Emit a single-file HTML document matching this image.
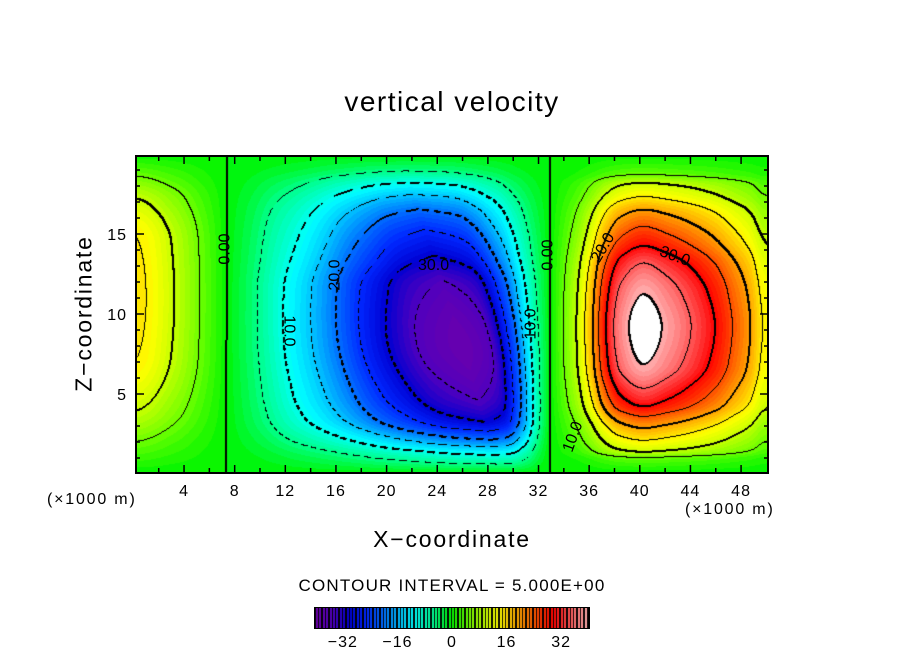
<!DOCTYPE html>
<html><head><meta charset="utf-8">
<style>
html,body{margin:0;padding:0;background:#fff;}
#root{position:relative;width:904px;height:654px;overflow:hidden;font-family:"Liberation Sans",sans-serif;color:#000;}
.t{position:absolute;white-space:nowrap;}
canvas{position:absolute;}
svg{position:absolute;left:0;top:0;}
.lab{position:absolute;font-size:16px;white-space:nowrap;transform-origin:center center;}
</style></head>
<body>
<div id="root">
<div class="t" style="left:0;width:904px;text-align:center;top:86px;font-size:28px;letter-spacing:1.5px;">vertical velocity</div>
<canvas id="plot" width="632" height="317" style="left:136px;top:156px;"></canvas>
<svg id="axes" width="904" height="654"></svg>
<div class="lab" style="left:210px;top:240px;transform:rotate(-90deg);">0.00</div>
<div class="lab" style="left:273px;top:322px;transform:rotate(90deg);">10.0</div>
<div class="lab" style="left:320px;top:266px;transform:rotate(-90deg);">20.0</div>
<div class="lab" style="left:418px;top:257px;">30.0</div>
<div class="lab" style="left:516px;top:315px;transform:rotate(-90deg);">10.0</div>
<div class="lab" style="left:533px;top:246px;transform:rotate(-90deg);">0.00</div>
<div class="lab" style="left:588px;top:239px;transform:rotate(-60deg);">20.0</div>
<div class="lab" style="left:659px;top:248px;transform:rotate(20deg);">30.0</div>
<div class="lab" style="left:558px;top:428px;transform:rotate(-70deg);">10.0</div>
<div class="t" style="left:47px;top:491px;font-size:16px;letter-spacing:1.8px;">(×1000 m)</div>
<div class="t" style="left:685px;top:501px;font-size:16px;letter-spacing:1.8px;">(×1000 m)</div>
<div class="t" style="left:0;width:904px;text-align:center;top:526px;font-size:23px;letter-spacing:1.8px;">X−coordinate</div>
<div class="t" style="left:-16px;top:300px;width:200px;text-align:center;font-size:23px;letter-spacing:1.8px;transform:rotate(-90deg);">Z−coordinate</div>
<div class="t" style="left:0;width:904px;text-align:center;top:576px;font-size:17px;letter-spacing:1.2px;">CONTOUR INTERVAL = 5.000E+00</div>
<canvas id="cbar" width="274" height="20" style="left:315px;top:608px;"></canvas>
</div>
<script>
// ---- data ----
const xTicks=[4,8,12,16,20,24,28,32,36,40,44,48];
const zTicks=[5,10,15];
const cbarTicks=[-32,-16,0,16,32];
const contourLevelStep=5;
// positive updraft cell (right)
const posAmp=42;
const posXProfile=[[32.9,0],[34,0.12],[35,0.24],[35.7,0.36],[36.3,0.48],[36.8,0.6],[37.3,0.71],[38.5,0.9],[40.3,1],[42.2,0.93],[46,0.71],[47.3,0.6],[48.7,0.48],[49.7,0.36],[51,0.3]];
const posZProfile=[[0,0],[1.0,0.12],[1.4,0.24],[2.1,0.36],[2.9,0.48],[3.6,0.6],[4.2,0.71],[5.3,0.83],[6.8,0.95],[9.2,1],[11.3,0.95],[13.2,0.83],[14.3,0.71],[15.4,0.6],[16.5,0.48],[17.3,0.36],[18.2,0.24],[18.7,0.12],[20,0]];
// negative downdraft cell (middle)
const negAmp=-39;
const negCenterX=[[0,29],[8,26],[20,21]];
const negLeftEdge=7.3;
const negRightEdge=32.9;
const negXLeftProfile=[[-18,0],[-15.5,0.13],[-13.5,0.26],[-11.3,0.39],[-9.2,0.53],[-7.4,0.66],[-5.3,0.79],[-2.9,0.92],[0,1]];
const negXRightProfile=[[0,1],[2.2,0.92],[3.2,0.79],[3.9,0.66],[4.6,0.53],[5.2,0.39],[5.8,0.26],[6.5,0.13],[7.4,0]];
const negZProfile=[[0,0],[0.6,0.13],[1.2,0.26],[2.2,0.53],[3.4,0.79],[5,0.92],[8,1],[11.7,0.92],[13.4,0.79],[16.4,0.53],[18.2,0.26],[18.9,0.13],[20,0]];
// weak positive cell at left boundary
const leftAmp=16;
const leftXProfile=[[-1,1],[0,1],[3.2,0.63],[5.3,0.31],[7.4,0]];
const leftZProfile=[[0,0],[2,0.31],[4,0.63],[7.5,0.95],[11,1],[14.5,0.95],[17.2,0.63],[18.6,0.31],[20,0]];
const colorStops=[[-40,[110,0,170]],[-35,[80,0,190]],[-30,[0,0,210]],[-25,[0,40,255]],[-20,[0,110,255]],[-15,[0,195,255]],[-11,[0,255,255]],[-5,[0,255,140]],[0,[0,245,0]],[5,[110,255,0]],[10,[200,255,0]],[14,[255,255,0]],[18,[255,190,0]],[22,[255,130,0]],[26,[255,60,0]],[30,[255,0,0]],[35,[255,90,90]],[40,[255,175,175]]];

// ---- scales ----
const PX0=136,PY0=156,PW=632,PH=317;
function sx(x){return 133.4+12.66*x;}
function sz(z){return 474-16*z;}
function ix(px){return (px-133.4)/12.66;}
function iz(py){return (474-py)/16;}

// monotone cubic interpolation
const slopeCache=new Map();
function slopes(p){
  if(slopeCache.has(p))return slopeCache.get(p);
  const n=p.length,dl=[],m=new Array(n);
  for(let i=0;i<n-1;i++)dl.push((p[i+1][1]-p[i][1])/(p[i+1][0]-p[i][0]));
  m[0]=dl[0];m[n-1]=dl[n-2];
  for(let i=1;i<n-1;i++){
    if(dl[i-1]*dl[i]<=0)m[i]=0;
    else{const h0=p[i][0]-p[i-1][0],h1=p[i+1][0]-p[i][0];const w1=2*h1+h0,w2=h1+2*h0;m[i]=(w1+w2)/(w1/dl[i-1]+w2/dl[i]);}
  }
  slopeCache.set(p,m);return m;
}
function interp(p,t){
  if(t<=p[0][0])return p[0][1];
  const n=p.length;if(t>=p[n-1][0])return p[n-1][1];
  const m=slopes(p);
  for(let i=1;i<n;i++){if(t<=p[i][0]){
    const a=p[i-1],b=p[i],h=b[0]-a[0],s=(t-a[0])/h,s2=s*s,s3=s2*s;
    return (2*s3-3*s2+1)*a[1]+(s3-2*s2+s)*h*m[i-1]+(-2*s3+3*s2)*b[1]+(s3-s2)*h*m[i];
  }}
  return p[n-1][1];
}
function field(x,z){
  let v=posAmp*Math.max(0,interp(posXProfile,x))*Math.max(0,interp(posZProfile,z));
  v+=leftAmp*Math.max(0,interp(leftXProfile,x))*Math.max(0,interp(leftZProfile,z));
  const xc=interp(negCenterX,z);
  let f;
  if(x<xc)f=interp(negXLeftProfile,(x-xc)/(xc-negLeftEdge)*18);
  else f=interp(negXRightProfile,(x-xc)/(negRightEdge-xc)*7.4);
  v+=negAmp*Math.max(0,f)*Math.max(0,interp(negZProfile,z));
  return v;
}
function color(v){
  if(v>40)return [255,255,255];
  v=Math.floor(v)+0.5;
  if(v<=colorStops[0][0])return colorStops[0][1];
  for(let i=1;i<colorStops.length;i++){if(v<=colorStops[i][0]){const a=colorStops[i-1],b=colorStops[i];const t=(v-a[0])/(b[0]-a[0]);return [0,1,2].map(k=>Math.round(a[1][k]+(b[1][k]-a[1][k])*t));}}
  return colorStops[colorStops.length-1][1];
}

// ---- plot ----
(function(){
  const c=document.getElementById('plot'),ctx=c.getContext('2d');
  const img=ctx.createImageData(PW,PH),d=img.data;
  const K=new Int32Array(PW*PH);
  for(let j=0;j<PH;j++)for(let i=0;i<PW;i++){
    const v=field(ix(PX0+i+0.5),iz(PY0+j+0.5));K[j*PW+i]=Math.floor(v/contourLevelStep);
    const col=color(v),o=(j*PW+i)*4;d[o]=col[0];d[o+1]=col[1];d[o+2]=col[2];d[o+3]=255;
  }
  function dark(i,j){if(i<0||j<0||i>=PW||j>=PH)return;const o=(j*PW+i)*4;d[o]=d[o+1]=d[o+2]=0;}
  for(let j=0;j<PH;j++)for(let i=0;i<PW;i++){
    const k=K[j*PW+i];
    const nb=[];
    if(i+1<PW&&K[j*PW+i+1]!==k)nb.push(Math.max(k,K[j*PW+i+1]));
    if(j+1<PH&&K[(j+1)*PW+i]!==k)nb.push(Math.max(k,K[(j+1)*PW+i]));
    if(!nb.length)continue;
    const L=nb[0]*contourLevelStep;
    if(L<0){const ph=((0.8*i+1.3*j)%11);if(ph>6.5)continue;}
    dark(i,j);
    if(L%10===0){dark(i+1,j);dark(i,j+1);}
  }
  ctx.putImageData(img,0,0);
})();

// ---- axes ----
(function(){
  const s=document.getElementById('axes'),NS='http://www.w3.org/2000/svg';
  function el(t,a){const e=document.createElementNS(NS,t);for(const k in a)e.setAttribute(k,a[k]);s.appendChild(e);return e;}
  const fr=el('rect',{x:PX0,y:PY0,width:PW,height:PH,fill:'none',stroke:'#000','stroke-width':2});
  
  
  for(let x=2;x<50;x+=2){
    const px=sx(x),L=(x%4===0)?8:5;
    const a=el('line',{x1:px,x2:px,y1:PY0,y2:PY0+L,stroke:'#000','stroke-width':1.5});
    
    
    const b=el('line',{x1:px,x2:px,y1:PY0+PH,y2:PY0+PH-L,stroke:'#000','stroke-width':1.5});
    
    
  }
  for(let z=1;z<20;z++){
    const py=sz(z),L=(z%5===0)?8:4;
    const a=el('line',{x1:PX0,x2:PX0+L,y1:py,y2:py,stroke:'#000','stroke-width':1.5});
    
    
    const b=el('line',{x1:PX0+PW,x2:PX0+PW-L,y1:py,y2:py,stroke:'#000','stroke-width':1.5});
    
    
  }
  xTicks.forEach(x=>{
    const t=el('text',{x:sx(x),y:496,'text-anchor':'middle','font-size':16,'letter-spacing':1,'font-family':'Liberation Sans, sans-serif'});
    t.textContent=x;
    
    
  });
  zTicks.forEach(z=>{
    const t=el('text',{x:127,y:sz(z)+6,'text-anchor':'end','font-size':16,'letter-spacing':1,'font-family':'Liberation Sans, sans-serif'});
    t.textContent=z;
    
    
  });
  const cb=el('rect',{x:315,y:608,width:274,height:20,fill:'none',stroke:'#000','stroke-width':2});
  
  
  cbarTicks.forEach(v=>{
    const t=el('text',{x:452+v*3.41,y:647,'text-anchor':'middle','font-size':16,'letter-spacing':1,'font-family':'Liberation Sans, sans-serif'});
    t.textContent=(v<0?'−':'')+Math.abs(v);
    
    
  });
})();

// ---- colorbar ----
(function(){
  const c=document.getElementById('cbar'),ctx=c.getContext('2d');
  ctx.fillStyle='#000';ctx.fillRect(0,0,274,20);
  for(let v=-40;v<40;v++){
    const x0=1+(v+40)*3.4;const col=color(v);
    ctx.fillStyle='rgb('+col.join(',')+')';
    ctx.fillRect(Math.round(x0),0,2,20);
  }
})();
</script>
</body></html>
